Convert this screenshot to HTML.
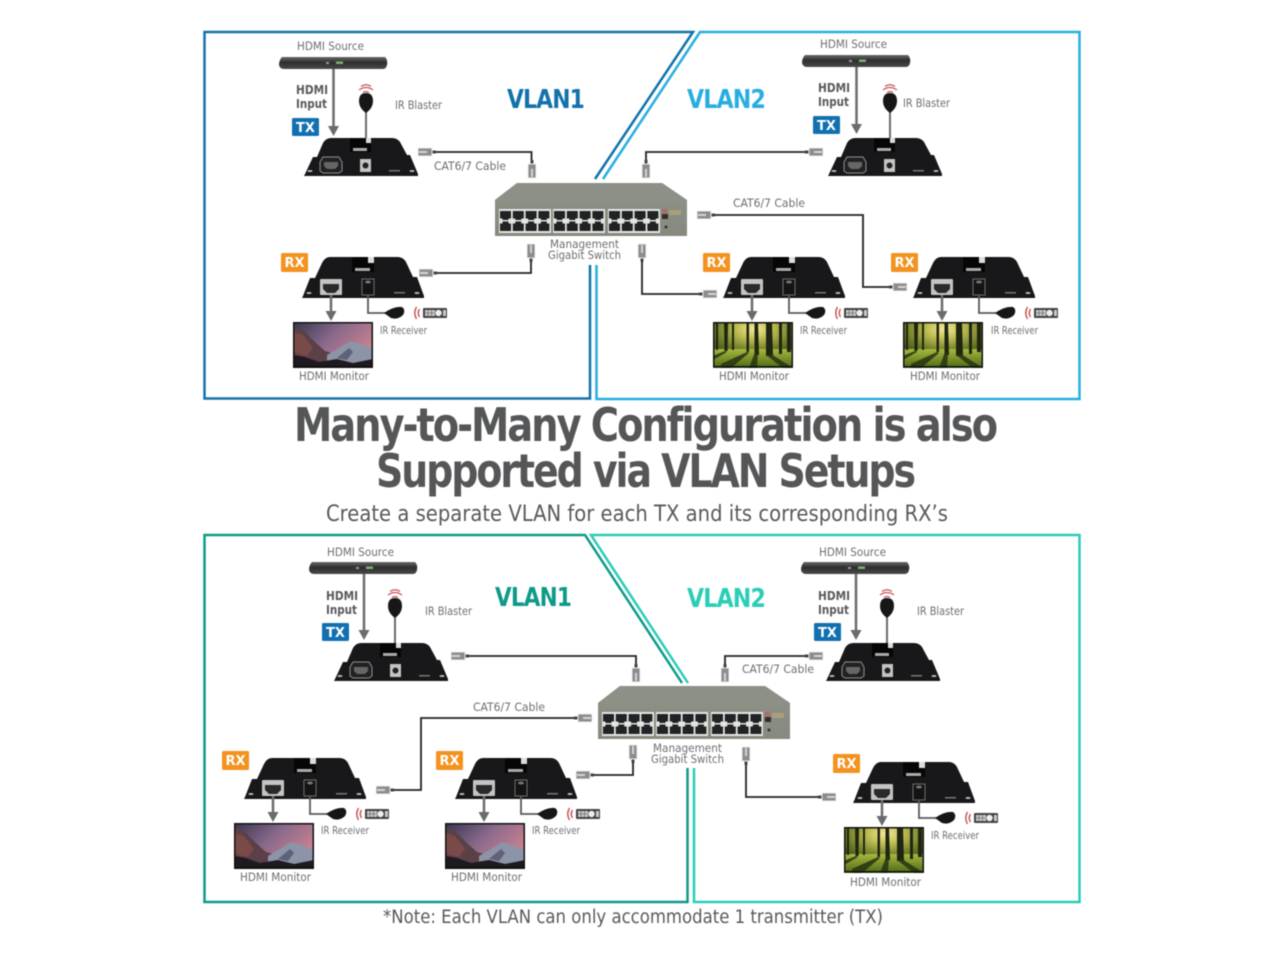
<!DOCTYPE html>
<html><head><meta charset="utf-8"><style>
html,body{margin:0;padding:0;background:#fff}
svg{display:block;filter:blur(.4px)}
text{font-family:"DejaVu Sans","Liberation Sans",sans-serif;fill:#6d6e71}
.s{font-size:11.5px}.r{font-size:10.5px}.b{font-size:12.5px;font-weight:bold;fill:#58595b}
.v{font-size:26px;font-weight:bold;letter-spacing:-1px}
.tg{font-size:13px;font-weight:bold;fill:#fff}
.h{font-size:46px;font-weight:bold;fill:#555658;letter-spacing:-2.500px}
</style></head><body>
<svg width="1280" height="960" viewBox="0 0 1280 960" xmlns="http://www.w3.org/2000/svg">
<defs>
<linearGradient id="sky" x1="0" y1="0" x2="1" y2=".6"><stop offset="0" stop-color="#35364f"/><stop offset=".5" stop-color="#8a6a8c"/><stop offset="1" stop-color="#d0838f"/></linearGradient>
<radialGradient id="sun" cx=".52" cy=".15" r=".7"><stop offset="0" stop-color="#f2ea9a"/><stop offset=".3" stop-color="#c2c055"/><stop offset=".7" stop-color="#6c7a28"/><stop offset="1" stop-color="#3a4a18"/></radialGradient>
<linearGradient id="grn" x1="0" y1="0" x2="0" y2="1"><stop offset="0" stop-color="#a8b83e"/><stop offset="1" stop-color="#4c6a18"/></linearGradient>
<linearGradient id="sw" x1="0" y1="0" x2="0" y2="1"><stop offset="0" stop-color="#8f9389"/><stop offset="1" stop-color="#85897e"/></linearGradient>
<linearGradient id="src" x1="0" y1="0" x2="0" y2="1"><stop offset="0" stop-color="#6a6a6a"/><stop offset=".45" stop-color="#2e2e2e"/><stop offset="1" stop-color="#4a4a4a"/></linearGradient>

<g id="tx">
<path d="M0 39L1 37L9 20H13L19 6Q22 1 27 1H88Q93 1 96 5L103 18H106L114 37L114 39Z" fill="#18181b"/>
<rect x="46" y="1" width="21" height="14" fill="#060606"/>
<rect x="62" y="1" width="5" height="5" fill="#ddd"/>
<rect x="49" y="11" width="14" height="3" fill="#aaa"/>
<path d="M16 25L19 20H35L38 25V34L35 36H19L16 34Z" fill="#222" stroke="#8f8f8f" stroke-width="1"/>
<path d="M20 25H34V29L31 32H23L20 29Z" fill="#666"/>
<rect x="56" y="22" width="11" height="13" fill="#c4c4c4"/><circle cx="61.500" cy="28.500" r="3" fill="#222"/>
<rect x="85" y="33" width="11" height="1.500" fill="#777"/>
<ellipse cx="6" cy="34" rx="2.500" ry="1" fill="#bbb"/><ellipse cx="108" cy="34" rx="2.500" ry="1" fill="#bbb"/>
</g>

<g id="rx">
<path d="M0 41L1 39L8 21H13L20 6Q23 0 28 0H96Q101 0 104 5L111 20H115L122 39V41Z" fill="#18181b"/>
<rect x="50" y="0" width="22" height="15" fill="#060606"/>
<rect x="66" y="0" width="6" height="6" fill="#ddd"/>
<rect x="53" y="11" width="15" height="3" fill="#aaa"/>
<rect x="18" y="22" width="22" height="16" rx="1" fill="#c4c4c4"/>
<path d="M21 27H37V32L33 36H25L21 32Z" fill="#2a2a2a"/>
<rect x="60" y="22" width="12" height="16" fill="#141414" stroke="#888" stroke-width=".8"/>
<ellipse cx="66" cy="25" rx="3" ry="1.500" fill="#777"/>
<rect x="92" y="35" width="11" height="1.500" fill="#777"/>
<ellipse cx="7" cy="36" rx="2.500" ry="1" fill="#bbb"/><ellipse cx="115" cy="36" rx="2.500" ry="1" fill="#bbb"/>
<path d="M29 38V56" stroke="#6a6b6d" stroke-width="2.500" fill="none"/>
<path d="M23.500 54H34.500L29 64Z" fill="#6a6b6d"/>
<path d="M66 38V56H90" stroke="#58595b" stroke-width="1.800" fill="none"/>
<path d="M82 56Q92 49 100 50Q104 53 101 58Q96 63 89 61Z" fill="#161616"/>
<path d="M114.500 50Q111 56 114.500 62M117.500 52Q115 56 117.500 60" stroke="#c8565a" stroke-width="1.500" fill="none"/>
<rect x="121" y="51" width="24" height="10" rx="1" fill="#444"/>
<path d="M123 53H133V59H123ZM141 53H144V59H141Z" fill="#c9c9c9"/>
<path d="M126 53V59M129.500 53V59M123 56H133" stroke="#555" stroke-width=".6"/>
<circle cx="136.500" cy="56" r="3.200" fill="#eee"/>
</g>

<g id="mpurple">
<rect width="80" height="45.500" fill="url(#sky)"/>
<path d="M0 5L9 7L22 20L32 29L46 33L80 30V46H0Z" fill="#5c4048"/>
<path d="M0 10L10 13L20 26L14 34L4 32L0 28Z" fill="#7a4a48"/>
<path d="M34 33L48 25L57 19L68 22L80 27V42H34Z" fill="#8c94a8"/>
<path d="M44 36L56 26L60 30L54 38Z" fill="#5e6178"/>
<path d="M0 33L12 35L26 40L44 37L60 41L80 37V46H0Z" fill="#1f1a20"/>
<rect x=".75" y=".75" width="78.500" height="44" fill="none" stroke="#111" stroke-width="1.500"/>
</g>

<g id="mforest">
<rect width="80" height="45.500" fill="url(#sun)"/>
<path d="M0 27H80V46H0Z" fill="url(#grn)"/>
<path d="M11 0H15L14.500 29H11.500ZM19 0H21V28H19ZM33.500 0H36V30H33.500ZM41.500 0H45L46 33H41.500ZM53 0H59L60 34H53ZM66 0H69V32H66ZM74 0H78V30H74ZM3 0H5V28H3Z" fill="#1e2510"/>
<path d="M42 30L36 46H44L45 30ZM53 33L70 46H80L58 32ZM34 30L8 42V46H18L36 31ZM12 29L0 34V38L14 30Z" fill="#27320f" opacity=".85"/>
<rect x=".75" y=".75" width="78.500" height="44" fill="none" stroke="#111" stroke-width="1.500"/>
</g>

<g id="source">
<path d="M3 0H106Q109 3 108 8Q107 12 104 12H5Q1 12 0 8Q0 3 3 0Z" fill="url(#src)"/>
<rect x="57" y="4.500" width="7" height="2.500" fill="#7fae6a"/>
<rect x="47" y="5" width="3" height="2" fill="#999"/>
</g>

<g id="blob">
<path d="M0 0V27" stroke="#6a6b6d" stroke-width="2"/>
<path d="M0 1Q-7 -4 -7 -11Q-7 -19 0 -19Q7 -19 7 -11Q7 -4 0 1Z" fill="#171717"/>
<path d="M-7 -22Q0 -27 7 -22M-5 -25.500Q0 -29 5 -25.500M-3 -19.500Q0 -21.500 3 -19.500" stroke="#c8565a" stroke-width="1.200" fill="none"/>
</g>

<g id="plug">
<rect x="-1.500" y="0" width="3" height="5" fill="#444"/>
<rect x="-4.500" y="3.500" width="9" height="15" rx="1" fill="#ececec"/>
<rect x="-3.500" y="4.500" width="7" height="13" fill="#8c8c8c"/>
<rect x="-1" y="9" width="2" height="8" fill="#d4d4d4"/>
</g>

<g id="ports">
<rect width="52" height="24" fill="#e4e5e2"/>
<g fill="#202224">
<path id="pt" d="M1 2H12V9.500H9.500V11H3.500V9.500H1Z"/>
<use href="#pt" x="12.800"/><use href="#pt" x="25.600"/><use href="#pt" x="38.400"/>
<path d="M1 14.500H3.500V12.500H9.500V14.500H12V22H1Z"/>
<path d="M13.800 14.500H16.300V12.500H22.300V14.500H24.800V22H13.800Z"/>
<path d="M26.600 14.500H29.100V12.500H35.100V14.500H37.600V22H26.600Z"/>
<path d="M39.400 14.500H41.900V12.500H47.900V14.500H50.400V22H39.400Z"/>
</g>
</g>

<g id="switch">
<path d="M22 0H167L192 17V53H0V17Z" fill="url(#sw)"/>
<path d="M22 0H167L192 17H0Z" fill="#8c9086"/>
<use href="#ports" x="4" y="26"/><use href="#ports" x="58" y="26"/><use href="#ports" x="113" y="26"/>
<rect x="167" y="31" width="6" height="5" fill="#3a2a2a"/>
<rect x="167" y="26" width="5" height="4" fill="#b06a6a"/>
<rect x="174" y="27" width="12" height="5" fill="#a89f7c"/>
<circle cx="171" cy="44" r="1.500" fill="#333"/>
</g>
</defs>

<!-- Frames -->
<g fill="none" stroke-width="2.500">
<path d="M590 265V398.500H204.500V32H693L595 179" stroke="#1272ab"/>
<path d="M596.500 265V399H1079.500V32H700L603 179" stroke="#27aee0"/>
<path d="M687.500 768V902H204.500V535H585L682 683" stroke="#0e9a88"/>
<path d="M694 768V902H1079.500V535H591L688 683" stroke="#2acdb6"/>
</g>

<!-- Wires -->
<g fill="none" stroke="#222" stroke-width="1.800">
<path d="M432 152H531.500V162"/>
<path d="M646 162V152H810"/>
<path d="M708 215H863V287H892"/>
<path d="M432 273H531V258"/>
<path d="M642 258V294H702"/>
<path d="M465 656H636V666"/>
<path d="M725 666V656H810"/>
<path d="M578 718H421V790H390"/>
<path d="M633 760V775H590"/>
<path d="M746 762V797H822"/>
</g>

<!-- Switches -->
<use href="#switch" x="495" y="183"/>
<use href="#switch" x="598" y="686"/>

<!-- Plugs -->
<use href="#plug" transform="translate(436,152) rotate(90)"/>
<use href="#plug" transform="translate(532,160)"/>
<use href="#plug" transform="translate(646,160)"/>
<use href="#plug" transform="translate(805,152) rotate(-90)"/>
<use href="#plug" transform="translate(715,215) rotate(90)"/>
<use href="#plug" transform="translate(889,287) rotate(-90)"/>
<use href="#plug" transform="translate(437,273) rotate(90)"/>
<use href="#plug" transform="translate(531,262) rotate(180)"/>
<use href="#plug" transform="translate(642,262) rotate(180)"/>
<use href="#plug" transform="translate(699,294) rotate(-90)"/>
<use href="#plug" transform="translate(469,656) rotate(90)"/>
<use href="#plug" transform="translate(636,664)"/>
<use href="#plug" transform="translate(725,664)"/>
<use href="#plug" transform="translate(805,656) rotate(-90)"/>
<use href="#plug" transform="translate(574,718) rotate(-90)"/>
<use href="#plug" transform="translate(394,790) rotate(90)"/>
<use href="#plug" transform="translate(633,763) rotate(180)"/>
<use href="#plug" transform="translate(594,775) rotate(90)"/>
<use href="#plug" transform="translate(746,765) rotate(180)"/>
<use href="#plug" transform="translate(818,797) rotate(-90)"/>

<!-- TX units -->
<g stroke="#6a6b6d" stroke-width="2.500" fill="#6a6b6d">
<path d="M333.500 69V130"/><path d="M328 126H339L333.500 136Z" stroke="none"/>
<path d="M856.500 67V128"/><path d="M851 124H862L856.500 134Z" stroke="none"/>
<path d="M364 574V632"/><path d="M358.500 630H369.500L364 640Z" stroke="none"/>
<path d="M856 574V632"/><path d="M850.500 630H861.500L856 640Z" stroke="none"/>
</g>
<use href="#source" x="279" y="57"/><use href="#source" x="802" y="55"/>
<use href="#source" x="309" y="562"/><use href="#source" x="801" y="562"/>
<use href="#blob" x="366" y="112"/><use href="#blob" x="890" y="112"/>
<use href="#blob" x="395" y="617"/><use href="#blob" x="887" y="617"/>
<use href="#tx" x="304" y="137"/><use href="#tx" x="828" y="137"/>
<use href="#tx" x="334" y="642"/><use href="#tx" x="826" y="642"/>

<!-- RX units + monitors -->
<use href="#rx" x="302" y="257"/><use href="#rx" x="723" y="257"/><use href="#rx" x="913" y="257"/>
<use href="#rx" x="244" y="758"/><use href="#rx" x="455" y="758"/><use href="#rx" x="853" y="762"/>
<use href="#mpurple" x="293" y="322"/>
<use href="#mforest" x="713" y="322"/><use href="#mforest" x="903" y="322"/>
<use href="#mpurple" x="234" y="823"/><use href="#mpurple" x="445" y="823"/>
<use href="#mforest" x="844" y="827"/>

<!-- Tags -->
<g fill="#1270b0">
<rect x="292" y="118" width="27" height="18" rx="1.500"/><rect x="813" y="116" width="27" height="18" rx="1.500"/>
<rect x="322" y="623" width="27" height="18" rx="1.500"/><rect x="814" y="623" width="27" height="18" rx="1.500"/>
</g>
<g fill="#f3921f">
<rect x="281" y="253" width="27" height="19" rx="1.500"/><rect x="703" y="253" width="27" height="19" rx="1.500"/><rect x="891" y="253" width="27" height="19" rx="1.500"/>
<rect x="222" y="751" width="27" height="19" rx="1.500"/><rect x="436" y="751" width="27" height="19" rx="1.500"/><rect x="833" y="754" width="27" height="19" rx="1.500"/>
</g>
<g text-anchor="middle">
<text class="tg" x="305.500" y="132">TX</text><text class="tg" x="826.500" y="130">TX</text>
<text class="tg" x="335.500" y="637">TX</text><text class="tg" x="827.500" y="637">TX</text>
<text class="tg" x="294.500" y="267">RX</text><text class="tg" x="716.500" y="267">RX</text><text class="tg" x="904.500" y="267">RX</text>
<text class="tg" x="235.500" y="765">RX</text><text class="tg" x="449.500" y="765">RX</text><text class="tg" x="846.500" y="768">RX</text>
</g>

<!-- VLAN labels -->
<text class="v" x="507" y="108" textLength="77" lengthAdjust="spacingAndGlyphs" style="fill:#1272ab">VLAN1</text>
<text class="v" x="687" y="108" textLength="78" lengthAdjust="spacingAndGlyphs" style="fill:#27aee0">VLAN2</text>
<text class="v" x="495" y="606" textLength="76" lengthAdjust="spacingAndGlyphs" style="fill:#0e9a88">VLAN1</text>
<text class="v" x="687" y="607" textLength="78" lengthAdjust="spacingAndGlyphs" style="fill:#2acdb6">VLAN2</text>

<!-- Small labels -->
<g>
<text class="s" x="297" y="50" textLength="67" lengthAdjust="spacingAndGlyphs">HDMI Source</text>
<text class="s" x="820" y="48" textLength="67" lengthAdjust="spacingAndGlyphs">HDMI Source</text>
<text class="s" x="327" y="556" textLength="67" lengthAdjust="spacingAndGlyphs">HDMI Source</text>
<text class="s" x="819" y="556" textLength="67" lengthAdjust="spacingAndGlyphs">HDMI Source</text>

<text class="b" x="296" y="94" textLength="32" lengthAdjust="spacingAndGlyphs">HDMI</text><text class="b" x="296" y="108" textLength="31" lengthAdjust="spacingAndGlyphs">Input</text>
<text class="b" x="818" y="92" textLength="32" lengthAdjust="spacingAndGlyphs">HDMI</text><text class="b" x="818" y="106" textLength="31" lengthAdjust="spacingAndGlyphs">Input</text>
<text class="b" x="326" y="600" textLength="32" lengthAdjust="spacingAndGlyphs">HDMI</text><text class="b" x="326" y="614" textLength="31" lengthAdjust="spacingAndGlyphs">Input</text>
<text class="b" x="818" y="600" textLength="32" lengthAdjust="spacingAndGlyphs">HDMI</text><text class="b" x="818" y="614" textLength="31" lengthAdjust="spacingAndGlyphs">Input</text>

<text class="s" x="395" y="109" textLength="47" lengthAdjust="spacingAndGlyphs">IR Blaster</text>
<text class="s" x="903" y="107" textLength="47" lengthAdjust="spacingAndGlyphs">IR Blaster</text>
<text class="s" x="425" y="615" textLength="47" lengthAdjust="spacingAndGlyphs">IR Blaster</text>
<text class="s" x="917" y="615" textLength="47" lengthAdjust="spacingAndGlyphs">IR Blaster</text>

<text class="s" x="434" y="170" textLength="72" lengthAdjust="spacingAndGlyphs">CAT6/7 Cable</text>
<text class="s" x="733" y="207" textLength="72" lengthAdjust="spacingAndGlyphs">CAT6/7 Cable</text>
<text class="s" x="742" y="673" textLength="72" lengthAdjust="spacingAndGlyphs">CAT6/7 Cable</text>
<text class="s" x="473" y="711" textLength="72" lengthAdjust="spacingAndGlyphs">CAT6/7 Cable</text>

<text class="s" x="550" y="248" textLength="69" lengthAdjust="spacingAndGlyphs">Management</text>
<text class="s" x="548" y="259" textLength="73" lengthAdjust="spacingAndGlyphs">Gigabit Switch</text>
<text class="s" x="653" y="752" textLength="69" lengthAdjust="spacingAndGlyphs">Management</text>
<text class="s" x="651" y="763" textLength="73" lengthAdjust="spacingAndGlyphs">Gigabit Switch</text>

<text class="r" x="380" y="334" textLength="47" lengthAdjust="spacingAndGlyphs">IR Receiver</text>
<text class="r" x="800" y="334" textLength="47" lengthAdjust="spacingAndGlyphs">IR Receiver</text>
<text class="r" x="991" y="334" textLength="47" lengthAdjust="spacingAndGlyphs">IR Receiver</text>
<text class="r" x="321" y="834" textLength="48" lengthAdjust="spacingAndGlyphs">IR Receiver</text>
<text class="r" x="532" y="834" textLength="48" lengthAdjust="spacingAndGlyphs">IR Receiver</text>
<text class="r" x="931" y="839" textLength="48" lengthAdjust="spacingAndGlyphs">IR Receiver</text>

<text class="s" x="299" y="380" textLength="70" lengthAdjust="spacingAndGlyphs">HDMI Monitor</text>
<text class="s" x="719" y="380" textLength="70" lengthAdjust="spacingAndGlyphs">HDMI Monitor</text>
<text class="s" x="910" y="380" textLength="70" lengthAdjust="spacingAndGlyphs">HDMI Monitor</text>
<text class="s" x="240" y="881" textLength="71" lengthAdjust="spacingAndGlyphs">HDMI Monitor</text>
<text class="s" x="451" y="881" textLength="71" lengthAdjust="spacingAndGlyphs">HDMI Monitor</text>
<text class="s" x="850" y="886" textLength="71" lengthAdjust="spacingAndGlyphs">HDMI Monitor</text>
</g>

<!-- Headings -->
<text class="h" x="294" y="441" textLength="702" lengthAdjust="spacingAndGlyphs">Many-to-Many Configuration is also</text>
<text class="h" x="376" y="487" textLength="538" lengthAdjust="spacingAndGlyphs">Supported via VLAN Setups</text>
<text x="326" y="521" textLength="622" lengthAdjust="spacingAndGlyphs" style="font-size:22.500px;fill:#58595b">Create a separate VLAN for each TX and its corresponding RX’s</text>
<text x="383" y="923" textLength="500" lengthAdjust="spacingAndGlyphs" style="font-size:18.500px;fill:#58595b">*Note: Each VLAN can only accommodate 1 transmitter (TX)</text>
</svg>
</body></html>
